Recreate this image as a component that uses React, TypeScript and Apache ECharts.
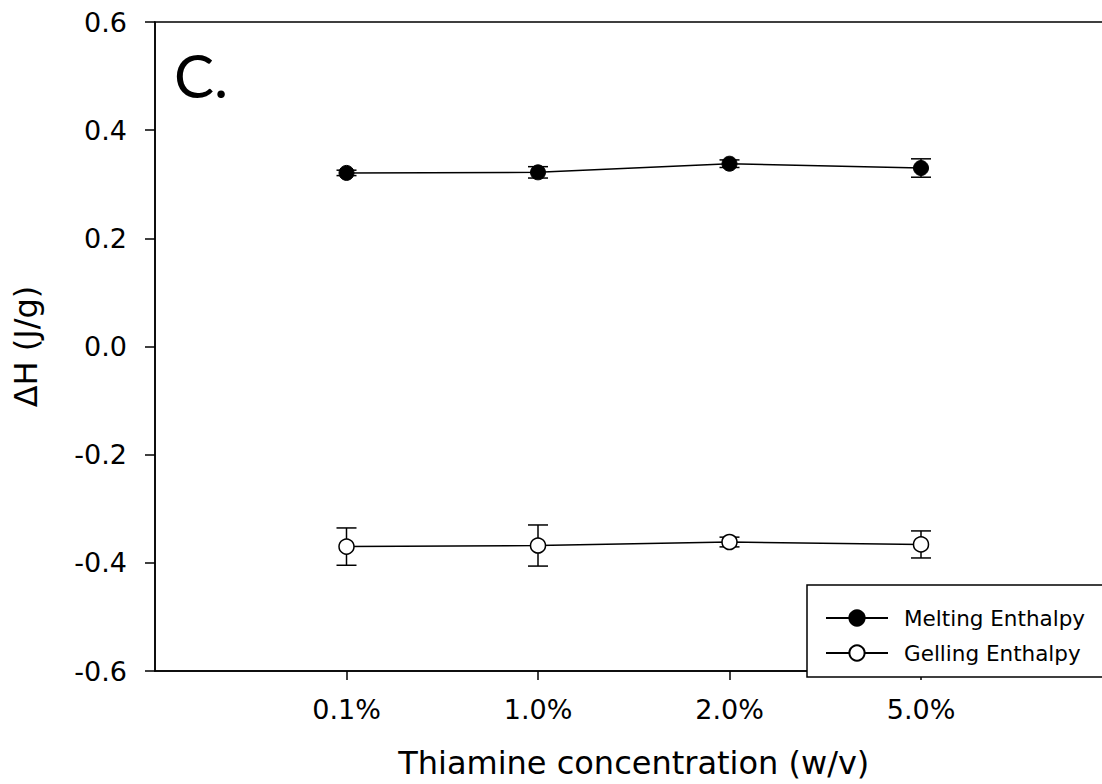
import React, { useEffect, useRef } from 'react';
import * as echarts from 'echarts';

const categories = ['0.1%', '1.0%', '2.0%', '5.0%'];
const xPositions = [1, 2, 3, 4];
const meltingValues = [0.321, 0.322, 0.338, 0.33];
const meltingErrors = [0.005, 0.0105, 0.007, 0.017];
const gellingValues = [-0.37, -0.368, -0.3615, -0.366];
const gellingErrors = [0.0345, 0.038, 0.009, 0.025];
const seriesNames = ['Melting Enthalpy', 'Gelling Enthalpy'];

const FONT = 'DejaVu Sans';

function errorData(values: number[], errs: number[]) {
  return values.map((v, i) => [xPositions[i], v - errs[i], v + errs[i]]);
}

function lineData(values: number[]) {
  return values.map((v, i) => [xPositions[i], v]);
}

const renderErr = (params: any, api: any) => {
  const x = api.value(0);
  const lo = api.value(1);
  const hi = api.value(2);
  const pHi = api.coord([x, hi]);
  const pLo = api.coord([x, lo]);
  const hw = 10;
  const style = { stroke: '#000', lineWidth: 1.5 };
  return {
    type: 'group',
    children: [
      { type: 'line', shape: { x1: pHi[0], y1: pHi[1], x2: pLo[0], y2: pLo[1] }, style },
      { type: 'line', shape: { x1: pHi[0] - hw, y1: pHi[1], x2: pHi[0] + hw, y2: pHi[1] }, style },
      { type: 'line', shape: { x1: pLo[0] - hw, y1: pLo[1], x2: pLo[0] + hw, y2: pLo[1] }, style },
    ],
  };
};

export default function App() {
  const ref = useRef<HTMLDivElement>(null);
  useEffect(() => {
    if (!ref.current) return;
    const chart = echarts.init(ref.current, undefined, { renderer: 'svg' });
    chart.setOption({
      animation: false,
      backgroundColor: '#fff',
      textStyle: { fontFamily: FONT, color: '#000' },
      grid: {
        left: 155,
        top: 22,
        width: 957.5,
        height: 654,
        show: true,
        borderColor: '#000',
        borderWidth: 1.5,
        backgroundColor: 'transparent',
      },
      xAxis: {
        type: 'value',
        min: 0,
        max: 5,
        interval: 1,
        name: 'Thiamine concentration (w/v)',
        nameLocation: 'middle',
        nameGap: 76,
        nameTextStyle: { fontFamily: FONT, fontSize: 32, color: '#000' },
        axisLine: { show: true, onZero: false, lineStyle: { color: '#000', width: 1.5 } },
        axisTick: { show: true, inside: false, length: 9, customValues: xPositions, lineStyle: { color: '#000', width: 1.5 } },
        axisLabel: {
          customValues: xPositions,
          margin: 25,
          fontFamily: FONT,
          fontSize: 27,
          color: '#000',
          formatter: (v: number) => {
            const i = xPositions.indexOf(v);
            return i >= 0 ? categories[i] : '';
          },
        },
        splitLine: { show: false },
      },
      yAxis: {
        type: 'value',
        min: -0.6,
        max: 0.6,
        interval: 0.2,
        name: 'ΔH (J/g)',
        nameLocation: 'middle',
        nameGap: 113,
        nameTextStyle: { fontFamily: FONT, fontSize: 32, color: '#000' },
        axisLine: { show: true, onZero: false, lineStyle: { color: '#000', width: 1.5 } },
        axisTick: { show: true, inside: false, length: 10, lineStyle: { color: '#000', width: 1.5 } },
        axisLabel: {
          margin: 28,
          fontFamily: FONT,
          fontSize: 27,
          color: '#000',
          formatter: (v: number) => v.toFixed(1),
        },
        splitLine: { show: false },
      },
      legend: {
        data: seriesNames,
        orient: 'vertical',
        left: 807,
        top: 585,
        width: 300,
        backgroundColor: '#fff',
        borderColor: '#000',
        borderWidth: 1.5,
        borderRadius: 0,
        padding: [22, 40, 13, 18],
        itemGap: 13,
        itemWidth: 62,
        itemHeight: 19,
        textStyle: { fontFamily: FONT, fontSize: 21.5, color: '#000', padding: [0, 0, 0, 11] },
      },
      graphic: [
        {
          type: 'text',
          left: 174,
          top: 45,
          style: { text: 'C.', font: '60px Lato', fill: '#000' },
        },
      ],
      series: [
        {
          type: 'custom',
          name: 'meltErr',
          renderItem: renderErr,
          data: errorData(meltingValues, meltingErrors),
          encode: { x: 0, y: [1, 2] },
          z: 1,
          silent: true,
        },
        {
          type: 'custom',
          name: 'gelErr',
          renderItem: renderErr,
          data: errorData(gellingValues, gellingErrors),
          encode: { x: 0, y: [1, 2] },
          z: 1,
          silent: true,
        },
        {
          type: 'line',
          name: seriesNames[0],
          data: lineData(meltingValues),
          symbol: 'circle',
          symbolSize: 15,
          itemStyle: { color: '#000', borderColor: '#000', borderWidth: 1 },
          lineStyle: { color: '#000', width: 1.5 },
          z: 3,
        },
        {
          type: 'line',
          name: seriesNames[1],
          data: lineData(gellingValues),
          symbol: 'circle',
          symbolSize: 15,
          itemStyle: { color: '#fff', borderColor: '#000', borderWidth: 1.5 },
          lineStyle: { color: '#000', width: 1.5 },
          z: 3,
        },
      ],
    });
    return () => chart.dispose();
  }, []);
  return (
    <div style={{ position: 'fixed', left: 0, top: 0, width: 1102, height: 784, overflow: 'hidden', background: '#fff' }}>
      <div ref={ref} style={{ width: 1130, height: 784 }} />
    </div>
  );
}
